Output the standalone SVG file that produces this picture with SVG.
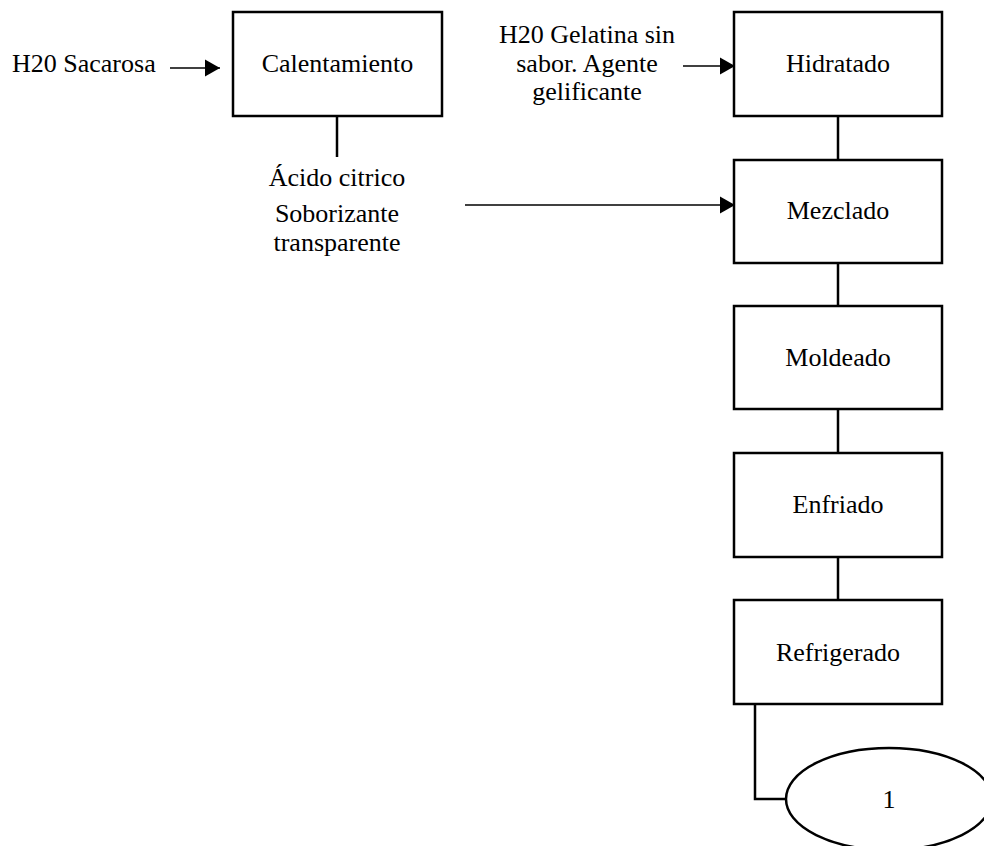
<svg xmlns="http://www.w3.org/2000/svg" width="984" height="846" viewBox="0 0 984 846">
<defs>
<marker id="arr" markerWidth="16" markerHeight="18" refX="15" refY="9" orient="auto" markerUnits="userSpaceOnUse">
<path d="M0,0.5 L15,9 L0,17.5 Z" fill="#000"/>
</marker>
<style>
.box{fill:#fff;stroke:#000;stroke-width:2.5}
.t{font-family:"Liberation Serif","Times New Roman",serif;font-size:26px;fill:#000;text-anchor:middle}
.tl{font-family:"Liberation Serif","Times New Roman",serif;font-size:26px;fill:#000}
.c{fill:none;stroke:#000;stroke-width:2.5}
.a{fill:none;stroke:#000;stroke-width:1.5}
</style>
</defs>
<rect width="984" height="846" fill="#fff"/>
<g id="connectors">
<line class="a" x1="170" y1="68" x2="220" y2="68" marker-end="url(#arr)"/>
<line class="a" x1="683" y1="66" x2="735" y2="66" marker-end="url(#arr)"/>
<line class="a" x1="465" y1="205" x2="735" y2="205" marker-end="url(#arr)"/>
<line class="c" x1="337" y1="116" x2="337" y2="157"/>
<line class="c" x1="838" y1="116" x2="838" y2="160"/>
<line class="c" x1="838" y1="263" x2="838" y2="306"/>
<line class="c" x1="838" y1="409" x2="838" y2="453"/>
<line class="c" x1="838" y1="557" x2="838" y2="600"/>
<polyline class="c" points="755,704 755,799 786,799"/>
</g>
<g id="label-sacarosa"><text class="tl" x="12" y="72">H20 Sacarosa</text></g>
<g id="label-gelatina">
<text class="t" x="587" y="43">H20 Gelatina sin</text>
<text class="t" x="587" y="72">sabor. Agente</text>
<text class="t" x="587" y="100">gelificante</text>
</g>
<g id="label-acido">
<text class="t" x="337" y="186">Ácido citrico</text>
<text class="t" x="337" y="222">Soborizante</text>
<text class="t" x="337" y="251">transparente</text>
</g>
<g id="calentamiento"><rect class="box" x="233" y="12" width="209" height="104"/><text class="t" x="337.5" y="72">Calentamiento</text></g>
<g id="hidratado"><rect class="box" x="734" y="12" width="208" height="104"/><text class="t" x="838" y="72">Hidratado</text></g>
<g id="mezclado"><rect class="box" x="734" y="160" width="208" height="103"/><text class="t" x="838" y="219">Mezclado</text></g>
<g id="moldeado"><rect class="box" x="734" y="306" width="208" height="103"/><text class="t" x="838" y="366">Moldeado</text></g>
<g id="enfriado"><rect class="box" x="734" y="453" width="208" height="104"/><text class="t" x="838" y="513">Enfriado</text></g>
<g id="refrigerado"><rect class="box" x="734" y="600" width="208" height="104"/><text class="t" x="838" y="661">Refrigerado</text></g>
<g id="conector-1"><ellipse class="box" cx="889" cy="799" rx="103" ry="51"/><text class="t" x="889" y="808">1</text></g>
</svg>
